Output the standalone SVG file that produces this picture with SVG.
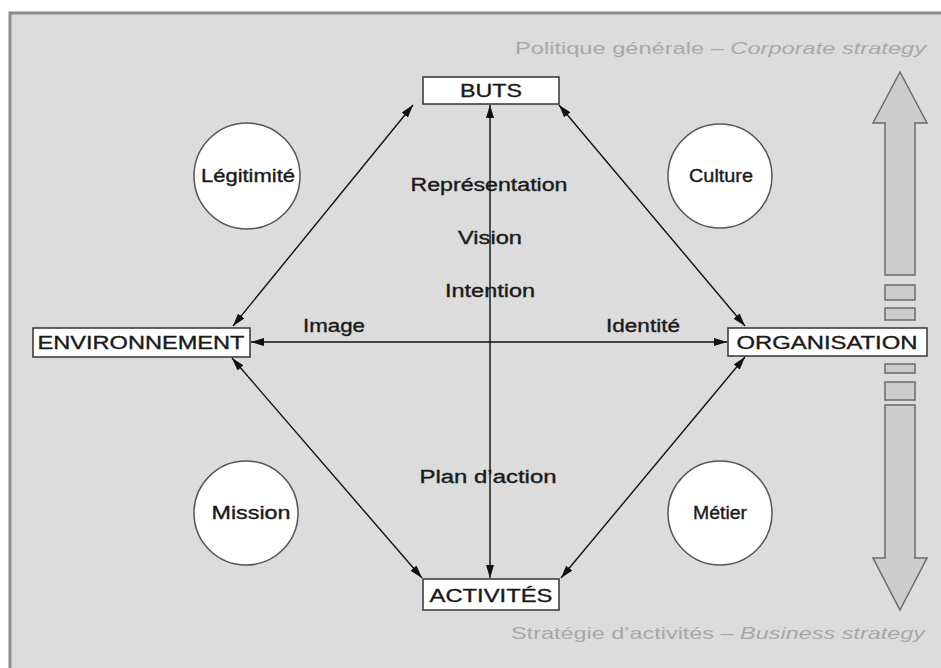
<svg xmlns="http://www.w3.org/2000/svg" width="941" height="668" viewBox="0 0 941 668">
<style>
  .box{fill:#ffffff;stroke:#333;stroke-width:1.5}
  .circ{fill:#ffffff;stroke:#555;stroke-width:1.5}
  .lbl{font-family:"Liberation Sans",Arial,sans-serif;font-size:18px;fill:#1a1a1a;stroke:#1a1a1a;stroke-width:0.35;text-anchor:middle}
  .hdr{font-family:"Liberation Sans",Arial,sans-serif;font-size:17px;fill:#a8a8a8;text-anchor:end}
  .conn{stroke:#111;stroke-width:1.4;fill:none;marker-start:url(#ah);marker-end:url(#ah)}
  .big{fill:#cdcdcd;stroke:#6a6a6a;stroke-width:1.5}
</style>
<defs>
  <marker id="ah" viewBox="0 0 13 8" refX="13" refY="4" markerWidth="13" markerHeight="8" markerUnits="userSpaceOnUse" orient="auto-start-reverse">
    <path d="M0,0 L13,4 L0,8 Z" fill="#111"/>
  </marker>
</defs>
<rect x="0" y="0" width="941" height="668" fill="#ffffff"/>
<rect x="9" y="12" width="932" height="656" fill="#dcdcdc"/>
<path d="M10,668 V13 H941" fill="none" stroke="#8c8c8c" stroke-width="3"/>

<text class="hdr" x="926" y="54" textLength="411" lengthAdjust="spacingAndGlyphs">Politique générale – <tspan font-style="italic">Corporate strategy</tspan></text>
<text class="hdr" x="925" y="639" textLength="414" lengthAdjust="spacingAndGlyphs">Stratégie d’activités – <tspan font-style="italic">Business strategy</tspan></text>

<g id="connectors">
  <line class="conn" x1="490" y1="105" x2="490" y2="578"/>
  <line class="conn" x1="251" y1="342" x2="727" y2="342"/>
  <line class="conn" x1="413" y1="105" x2="233" y2="326"/>
  <line class="conn" x1="559" y1="105" x2="745" y2="326"/>
  <line class="conn" x1="232" y1="358" x2="422" y2="578"/>
  <line class="conn" x1="745" y1="357" x2="561" y2="578"/>
</g>

<g id="scale-arrows">
  <path class="big" d="M900,72 L927,123 L915,123 L915,275 L885,275 L885,123 L873,123 Z"/>
  <rect class="big" x="885" y="285" width="30" height="15"/>
  <rect class="big" x="885" y="308" width="30" height="12"/>
  <rect class="big" x="885" y="364" width="30" height="9"/>
  <rect class="big" x="885" y="382" width="30" height="18"/>
  <path class="big" d="M900,610 L927,558 L915,558 L915,405 L885,405 L885,558 L873,558 Z"/>
</g>

<g id="buts">
  <rect class="box" x="423" y="77" width="136" height="27"/>
  <text class="lbl" x="491" y="97" textLength="62" lengthAdjust="spacingAndGlyphs">BUTS</text>
</g>
<g id="activites">
  <rect class="box" x="423" y="579" width="136" height="31"/>
  <text class="lbl" x="491" y="602" textLength="123" lengthAdjust="spacingAndGlyphs">ACTIVITÉS</text>
</g>
<g id="environnement">
  <rect class="box" x="33" y="328" width="217" height="29"/>
  <text class="lbl" x="141" y="349" textLength="207" lengthAdjust="spacingAndGlyphs">ENVIRONNEMENT</text>
</g>
<g id="organisation">
  <rect class="box" x="728" y="328" width="199" height="28"/>
  <text class="lbl" x="827" y="349" textLength="181" lengthAdjust="spacingAndGlyphs">ORGANISATION</text>
</g>

<g id="legitimite">
  <circle class="circ" cx="247" cy="176" r="53"/>
  <text class="lbl" x="248" y="182" textLength="94" lengthAdjust="spacingAndGlyphs">Légitimité</text>
</g>
<g id="culture">
  <circle class="circ" cx="720" cy="176" r="52"/>
  <text class="lbl" x="721" y="182" textLength="64" lengthAdjust="spacingAndGlyphs">Culture</text>
</g>
<g id="mission">
  <circle class="circ" cx="246" cy="513" r="52"/>
  <text class="lbl" x="251" y="519" textLength="79" lengthAdjust="spacingAndGlyphs">Mission</text>
</g>
<g id="metier">
  <circle class="circ" cx="720" cy="513" r="52"/>
  <text class="lbl" x="720" y="519" textLength="54" lengthAdjust="spacingAndGlyphs">Métier</text>
</g>

<g id="labels">
  <text class="lbl" x="489" y="191" textLength="157" lengthAdjust="spacingAndGlyphs">Représentation</text>
  <text class="lbl" x="490" y="244" textLength="64" lengthAdjust="spacingAndGlyphs">Vision</text>
  <text class="lbl" x="490" y="297" textLength="90" lengthAdjust="spacingAndGlyphs">Intention</text>
  <text class="lbl" x="488" y="483" textLength="137" lengthAdjust="spacingAndGlyphs">Plan d’action</text>
  <text class="lbl" x="334" y="332" textLength="62" lengthAdjust="spacingAndGlyphs">Image</text>
  <text class="lbl" x="643" y="332" textLength="74" lengthAdjust="spacingAndGlyphs">Identité</text>
</g>
</svg>
